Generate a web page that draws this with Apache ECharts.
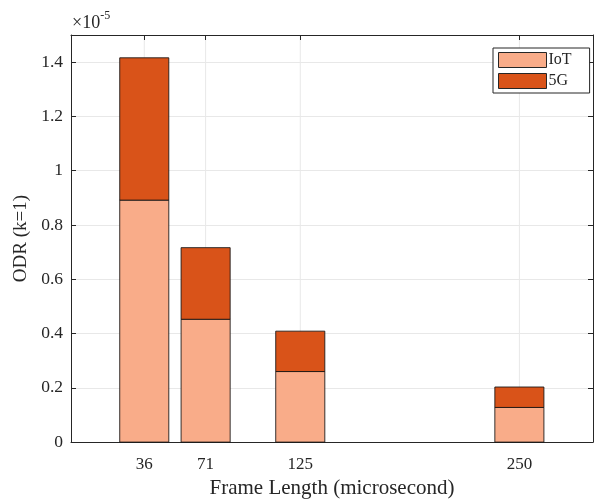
<!DOCTYPE html>
<html><head><meta charset="utf-8">
<script src="https://cdn.jsdelivr.net/npm/echarts@6/dist/echarts.min.js"></script>
<style>html,body{margin:0;padding:0;background:#fff}#c{width:597px;height:504px}</style>
</head><body><div id="c"></div>
<script>
const frameLengths = [36, 71, 125, 250];
const iotValues = [0.8916e-5, 0.4526e-5, 0.260e-5, 0.1277e-5];
const fiveGValues = [0.5244e-5, 0.2639e-5, 0.1488e-5, 0.0753e-5];
const seriesNames = ['IoT', '5G'];
const xTickValues = [36, 71, 125, 250];
const barWidthUnits = 28;

const FONT = 'Liberation Serif';
const TXT = '#262626';
const iotRows = frameLengths.map((x, i) => [x, 0, iotValues[i]]);
const gRows = frameLengths.map((x, i) => [x, iotValues[i], iotValues[i] + fiveGValues[i]]);

function renderBar(params, api) {
  const x = api.value(0), y0 = api.value(1), y1 = api.value(2);
  const p0 = api.coord([x, y0]);
  const p1 = api.coord([x, y1]);
  const w = api.size([barWidthUnits, 0])[0];
  return {
    type: 'rect',
    shape: { x: p0[0] - w / 2, y: p1[1], width: w, height: p0[1] - p1[1] },
    style: { fill: api.visual('color'), stroke: 'rgba(20,20,20,0.85)', lineWidth: 1 }
  };
}

const xRange = { min: -5.8, max: 292 };
const yRange = { min: 0, max: 1.5e-5, interval: 0.2e-5 };

const chart = echarts.init(document.getElementById('c'), null, { renderer: 'canvas' });
chart.setOption({
  animation: false,
  grid: { left: 71, top: 35, right: 4, bottom: 58, containLabel: false },
  legend: {
    orient: 'vertical', left: 493, top: 48,
    data: seriesNames,
    icon: 'rect', itemWidth: 48, itemHeight: 15, itemGap: 5,
    padding: [4, 18, 4, 5],
    backgroundColor: '#fff', borderColor: '#262626', borderWidth: 1, borderRadius: 0,
    textStyle: { fontFamily: FONT, fontSize: 16, color: TXT, padding: [0, 0, 0, -3] },
    itemStyle: { borderColor: '#262626', borderWidth: 1 }
  },
  xAxis: [{
    type: 'value', min: xRange.min, max: xRange.max, position: 'bottom',
    name: 'Frame Length (microsecond)', nameLocation: 'middle', nameGap: 31,
    nameTextStyle: { fontFamily: FONT, fontSize: 21, color: TXT },
    axisLine: { show: true, onZero: false, lineStyle: { color: TXT, width: 1 } },
    axisTick: { show: true, inside: true, length: 5, customValues: xTickValues, lineStyle: { color: TXT } },
    axisLabel: { customValues: xTickValues, fontFamily: FONT, fontSize: 17, color: TXT, margin: 14 },
    splitLine: { show: false }
  }, {
    type: 'value', min: xRange.min, max: xRange.max, position: 'top',
    axisLine: { show: true, onZero: false, lineStyle: { color: TXT, width: 1 } },
    axisTick: { show: true, inside: true, length: 5, customValues: xTickValues, lineStyle: { color: TXT } },
    axisLabel: { show: false },
    splitLine: { show: false }
  }],
  yAxis: [{
    type: 'value', min: yRange.min, max: yRange.max, interval: yRange.interval, position: 'left',
    name: 'ODR (k=1)', nameLocation: 'middle', nameGap: 35,
    nameTextStyle: { fontFamily: FONT, fontSize: 19, color: TXT },
    axisLine: { show: true, onZero: false, lineStyle: { color: TXT, width: 1 } },
    axisTick: { show: true, inside: true, length: 5, lineStyle: { color: TXT } },
    axisLabel: {
      showMaxLabel: false, fontFamily: FONT, fontSize: 17.5, color: TXT, margin: 8,
      formatter: v => String(parseFloat((v * 1e5).toFixed(2)))
    },
    splitLine: { show: true, lineStyle: { color: '#e8e8e8', width: 1 } }
  }, {
    type: 'value', min: yRange.min, max: yRange.max, interval: yRange.interval, position: 'right',
    axisLine: { show: true, onZero: false, lineStyle: { color: TXT, width: 1 } },
    axisTick: { show: true, inside: true, length: 5, lineStyle: { color: TXT } },
    axisLabel: { show: false },
    splitLine: { show: false }
  }],
  graphic: [{
    type: 'text', left: 72, top: 10, z: 100,
    style: {
      text: '{a|×10}{s|-5}',
      rich: {
        a: { fontFamily: FONT, fontSize: 18, fill: TXT, color: TXT, verticalAlign: 'bottom', lineHeight: 22 },
        s: { fontFamily: FONT, fontSize: 12, fill: TXT, color: TXT, verticalAlign: 'top', lineHeight: 22, padding: [0, 0, 10, 0] }
      }
    }
  }],
  series: [{
    type: 'custom', name: 'gridX', silent: true, z: 0,
    data: xTickValues.map(v => [v, yRange.min, yRange.max]),
    encode: { x: 0, y: [1, 2] },
    renderItem: (params, api) => {
      const a = api.coord([api.value(0), api.value(1)]);
      const b = api.coord([api.value(0), api.value(2)]);
      return { type: 'line', shape: { x1: a[0], y1: a[1], x2: b[0], y2: b[1] }, style: { stroke: '#e8e8e8', lineWidth: 1 } };
    }
  }, {
    type: 'custom', name: seriesNames[0], z: 2,
    itemStyle: { color: '#F9AC89' },
    data: iotRows, encode: { x: 0, y: [1, 2] }, renderItem: renderBar
  }, {
    type: 'custom', name: seriesNames[1], z: 2,
    itemStyle: { color: '#D95319' },
    data: gRows, encode: { x: 0, y: [1, 2] }, renderItem: renderBar
  }]
});
</script></body></html>
